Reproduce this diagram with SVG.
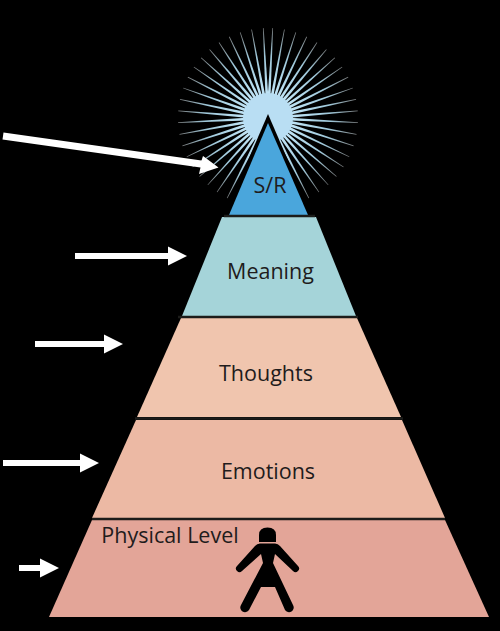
<svg xmlns="http://www.w3.org/2000/svg" xmlns:xlink="http://www.w3.org/1999/xlink" width="500" height="631" viewBox="0 0 500 631">
<style>
.lbl{font-family:"Open Sans","Noto Sans","Liberation Sans",sans-serif;font-size:21.5px;fill:#1f1c1c;text-anchor:middle}
.div{stroke:#1c1c1a;stroke-width:2.5;fill:none}
.arr{fill:#fff}
</style>
<defs>
<linearGradient id="ray" gradientUnits="userSpaceOnUse" x1="268" y1="92" x2="268" y2="26">
<stop offset="0" stop-color="#bfe3f5"/><stop offset="0.55" stop-color="#9fc8da"/><stop offset="1" stop-color="#777"/>
</linearGradient>
<polygon id="r" points="266.6,96 269.4,96 268.35,28 267.65,28" fill="url(#ray)"/>
</defs>
<rect width="500" height="631" fill="#000"/>
<g id="burst">
<use href="#r" transform="rotate(3 268 118)"/><use href="#r" transform="rotate(10.5 268 118)"/><use href="#r" transform="rotate(18 268 118)"/><use href="#r" transform="rotate(25.5 268 118)"/><use href="#r" transform="rotate(33 268 118)"/><use href="#r" transform="rotate(40.5 268 118)"/><use href="#r" transform="rotate(48 268 118)"/><use href="#r" transform="rotate(55.5 268 118)"/><use href="#r" transform="rotate(63 268 118)"/><use href="#r" transform="rotate(70.5 268 118)"/><use href="#r" transform="rotate(78 268 118)"/><use href="#r" transform="rotate(85.5 268 118)"/><use href="#r" transform="rotate(93 268 118)"/><use href="#r" transform="rotate(100.5 268 118)"/><use href="#r" transform="rotate(108 268 118)"/><use href="#r" transform="rotate(115.5 268 118)"/><use href="#r" transform="rotate(123 268 118)"/><use href="#r" transform="rotate(130.5 268 118)"/><use href="#r" transform="rotate(138 268 118)"/><use href="#r" transform="rotate(145.5 268 118)"/><use href="#r" transform="rotate(153 268 118)"/><use href="#r" transform="rotate(160.5 268 118)"/><use href="#r" transform="rotate(199.5 268 118)"/><use href="#r" transform="rotate(207 268 118)"/><use href="#r" transform="rotate(214.5 268 118)"/><use href="#r" transform="rotate(222 268 118)"/><use href="#r" transform="rotate(229.5 268 118)"/><use href="#r" transform="rotate(237 268 118)"/><use href="#r" transform="rotate(244.5 268 118)"/><use href="#r" transform="rotate(252 268 118)"/><use href="#r" transform="rotate(259.5 268 118)"/><use href="#r" transform="rotate(267 268 118)"/><use href="#r" transform="rotate(274.5 268 118)"/><use href="#r" transform="rotate(282 268 118)"/><use href="#r" transform="rotate(289.5 268 118)"/><use href="#r" transform="rotate(297 268 118)"/><use href="#r" transform="rotate(304.5 268 118)"/><use href="#r" transform="rotate(312 268 118)"/><use href="#r" transform="rotate(319.5 268 118)"/><use href="#r" transform="rotate(327 268 118)"/><use href="#r" transform="rotate(334.5 268 118)"/><use href="#r" transform="rotate(342 268 118)"/><use href="#r" transform="rotate(349.5 268 118)"/><use href="#r" transform="rotate(357 268 118)"/>
<circle cx="268" cy="118" r="25" fill="#b9def3"/>
</g>
<g id="sr">
<polygon points="268,114 224,216 312,216" fill="#000"/>
<polygon points="268,123 229,215 308,215" fill="#4aa6dc"/>
<text class="lbl" x="270" y="193">S/R</text>
</g>
<g id="meaning">
<polygon points="222,217 316,217 356,316 182,316" fill="#a5d4d9"/>
<text class="lbl" x="270.500" y="279">Meaning</text>
</g>
<g id="thoughts">
<polygon points="181,318 357,318 401,417 137,417" fill="#f0c5ae"/>
<text class="lbl" x="266" y="381">Thoughts</text>
</g>
<g id="emotions">
<polygon points="136,420 402,420 445,518 92,518" fill="#ecb9a4"/>
<text class="lbl" x="268" y="479">Emotions</text>
</g>
<g id="physical">
<polygon points="92,520 445,520 489,617 49,617" fill="#e3a598"/>
<text class="lbl" x="170" y="543">Physical Level</text>
<g id="figure">
<path d="M259,542V535Q259,527.500 267.500,527.500Q276,527.500 276,535V542Z" fill="#000"/>
<path d="M260,543.500H275Q278,543.500 280,546L298,566A3.500,3.500 0 0 1 293,571L275,554L273,563L293,605A4.500,4.500 0 0 1 285,610L275,587H261L249,610A4.500,4.500 0 0 1 241,605L263,563L261,554L242,571A3.500,3.500 0 0 1 237,566L255,546Q257,543.500 260,543.500Z" fill="#000"/>
</g>
</g>
<g id="dividers">
<path class="div" d="M224,216H315M178,317H358M135,418.500H403M92,519H445"/>
</g>
<g id="connectors">
<polygon class="arr" points="3.500,132.500 201.500,160.500 203,156 218.500,167.500 199,174 200.500,167.500 2.500,139.500"/>
<polygon class="arr" points="75,253 168,253 168,246.500 187,256 168,265.500 168,259 75,259"/>
<polygon class="arr" points="35,341 104,341 104,334.500 123,344 104,353.500 104,347 35,347"/>
<polygon class="arr" points="3,460 80,460 80,453.500 99,463 80,472.500 80,466 3,466"/>
<polygon class="arr" points="19,565 40,565 40,558.500 59,568 40,577.500 40,571 19,571"/>
</g>
</svg>
